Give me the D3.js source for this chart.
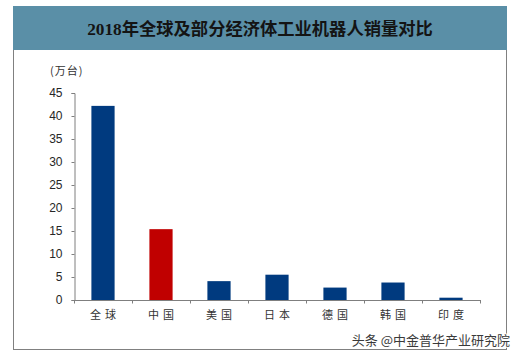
<!DOCTYPE html>
<html><head><meta charset="utf-8">
<script src="https://cdn.jsdelivr.net/npm/d3@7"></script>
<style>body{margin:0;background:#fff}svg{display:block}</style>
</head><body>
<script>
const categories = ["全球","中国","美国","日本","德国","韩国","印度"];
const values = [42.2, 15.4, 4.1, 5.5, 2.7, 3.8, 0.5];
const highlight = ["中国"];
const yTicks = [0,5,10,15,20,25,30,35,40,45];
const title = "2018年全球及部分经济体工业机器人销量对比";
const unitLabel = "(万台)";
const watermark = "头条 @中金普华产业研究院";

const W = 521, H = 357;
const svg = d3.select("body").append("svg").attr("width", W).attr("height", H);

// frame
svg.append("rect").attr("x", 13.5).attr("y", 6.5).attr("width", 493).attr("height", 343)
  .attr("fill", "#fff").attr("stroke", "#808080").attr("stroke-width", 1);
svg.append("rect").attr("x", 13).attr("y", 6).attr("width", 494).attr("height", 44)
  .attr("fill", "#5A8FA7");
svg.append("text").attr("x", 260).attr("y", 35).attr("text-anchor", "middle")
  .attr("font-family", "'Liberation Serif','Noto Sans CJK SC',serif").attr("font-weight", "bold")
  .attr("font-size", 17.3).attr("fill", "#141414").text(title);

const x = d3.scaleBand().domain(categories).range([74, 480]).paddingInner(0.6).paddingOuter(0.3);
const y = d3.scaleLinear().domain([0, 45]).range([300, 93]);

svg.selectAll("rect.bar").data(categories).join("rect").attr("class", "bar")
  .attr("x", d => x(d)).attr("width", x.bandwidth())
  .attr("y", (d, i) => y(values[i])).attr("height", (d, i) => y(0) - y(values[i]))
  .attr("fill", d => highlight.includes(d) ? "#C00000" : "#003A7F");

const yAxis = d3.axisLeft(y).tickValues(yTicks).tickSize(3).tickPadding(9);
const gy = svg.append("g").attr("transform", "translate(74.5,0)").call(yAxis);
gy.select(".domain").attr("stroke", "#7f7f7f");
gy.selectAll(".tick line").attr("stroke", "#7f7f7f");
gy.selectAll("text").attr("font-family", "'Liberation Sans',Arial,sans-serif").attr("font-size", 12).attr("fill", "#262626");

const xb = d3.scaleLinear().domain([0, categories.length]).range([74, 480]);
const gx = svg.append("g").attr("transform", "translate(0,300.5)");
gx.append("line").attr("x1", 74).attr("x2", 481).attr("stroke", "#7f7f7f");
gx.selectAll("line.t").data(d3.range(categories.length + 1)).join("line").attr("class", "t")
  .attr("x1", d => Math.round(xb(d)) + 0.5).attr("x2", d => Math.round(xb(d)) + 0.5)
  .attr("y1", 0).attr("y2", 3).attr("stroke", "#7f7f7f");
gx.selectAll("text").data(categories).join("text")
  .attr("x", d => x(d) + x.bandwidth() / 2 + 2).attr("y", 18).attr("text-anchor", "middle")
  .attr("font-family", "'Noto Sans CJK SC',sans-serif").attr("font-size", 11).attr("fill", "#333")
  .attr("letter-spacing", 4).text(d => d);

svg.append("text").attr("x", 50).attr("y", 75)
  .attr("font-family", "'Noto Sans CJK SC',sans-serif").attr("font-size", 11).attr("fill", "#333")
  .attr("letter-spacing", 1).text(unitLabel);

svg.append("text").attr("x", 510).attr("y", 345).attr("text-anchor", "end")
  .attr("font-family", "'Noto Sans CJK SC',sans-serif").attr("font-size", 13).attr("fill", "#3a3a3a")
  .attr("stroke", "#fff").attr("stroke-width", 2).attr("paint-order", "stroke")
  .text(watermark);
</script>
</body></html>
